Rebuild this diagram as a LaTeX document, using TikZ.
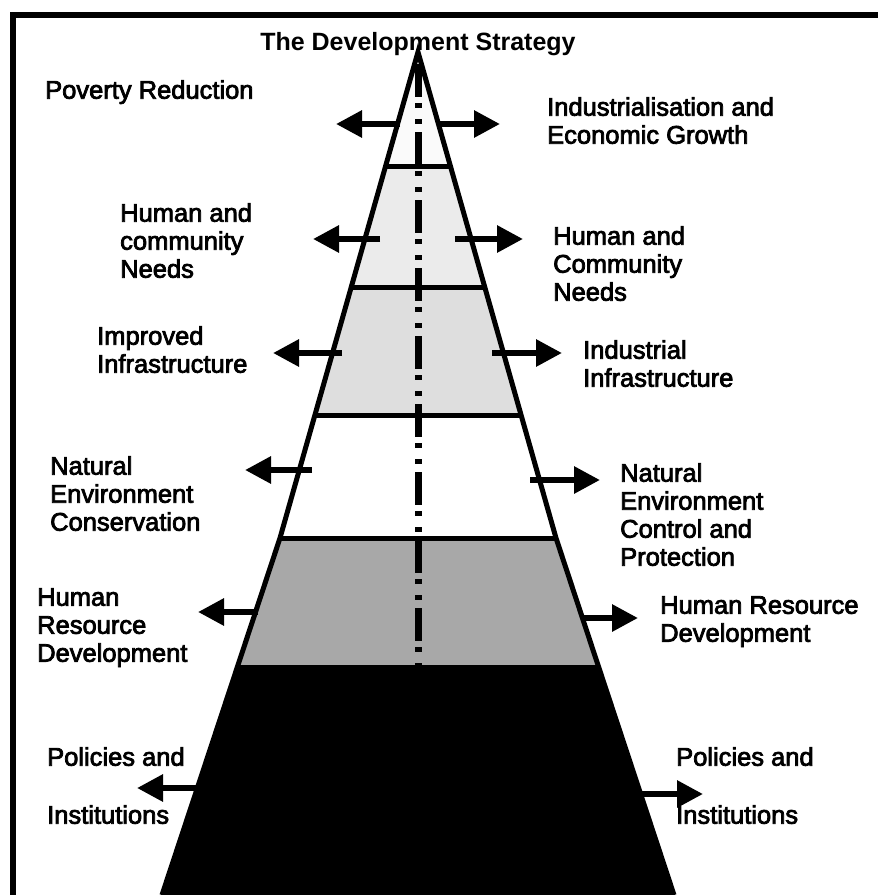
\documentclass[tikz,border=0pt]{standalone}
\usepackage{fontspec}
\setmainfont{Liberation Sans}
\newfontfamily\lblfont{Liberation Sans}[FakeBold=3]
\usepackage{tikz}
\usetikzlibrary{arrows.meta}
\newcommand*\lblsize{\fontsize{25.5}{28}\selectfont}
\tikzset{
    frame/.style  = {line width=6pt},
    rim/.style    = {line width=5pt, line join=miter},
    bandline/.style = {line width=5pt},
    axis/.style   = {line width=7pt,
                     dash pattern=on 33pt off 6pt on 5pt off 11pt on 5pt off 8pt},
    arr/.style    = {line width=6pt, -{Triangle[length=26pt,width=26pt]}},
    lbl/.style    = {anchor=north west, inner sep=0pt, align=left,
                     font=\lblfont\lblsize},
    headline/.style = {anchor=base, inner sep=0pt,
                     font=\bfseries\fontsize{25}{28}\selectfont},
  }

\begin{document}
\begin{tikzpicture}[x=1pt,y=-1pt]
    \useasboundingbox (0,0) rectangle (878,895);

    % open frame: top and left only
    \draw[frame] (878,15) -- (13,15) -- (13,895);

    % pyramid outline, a little flared below the white band
    \coordinate (apex) at (418,52);
    \coordinate (ml)   at (280,538);
    \coordinate (mr)   at (556,538);
    \coordinate (bl)   at (162,895);
    \coordinate (br)   at (674,895);

    % shaded bands, cut to the pyramid
    \begin{scope}
        \clip (apex) -- (mr) -- (br) -- (bl) -- (ml) -- cycle;
        \foreach \ya/\yb/\c in {52/166/gray!4, 166/287/gray!16, 287/415/gray!26,
                                415/538/white, 538/665/gray!68, 665/895/black} {
            \fill[\c] (0,\ya) rectangle (878,\yb);
        }
        \foreach \ya in {166,287,415,538} {
            \draw[bandline] (0,\ya) -- (878,\ya);
        }
        % centre line down to the black base
        \draw[axis] (418,64) -- (418,665);
    \end{scope}
    \draw[rim] (bl) -- (ml) -- (apex) -- (mr) -- (br);

    \node[headline] (title) at (418,50) {The Development Strategy};

    % left labels
    \node[lbl] (pov)  at (45,80)  {Poverty Reduction};
    \node[lbl] (humL) at (120,203) {Human and\\community\\Needs};
    \node[lbl] (impL) at (97,326) {Improved\\Infrastructure};
    \node[lbl] (natL) at (50,456) {Natural\\Environment\\Conservation};
    \node[lbl] (hrdL) at (37,588) {Human\\Resource\\Development};
    \node[lbl] (polL) at (47,747) {Policies and\\[30pt]Institutions};

    % right labels
    \node[lbl] (ind)  at (547,97) {Industrialisation and\\Economic Growth};
    \node[lbl] (humR) at (553,226) {Human and\\Community\\Needs};
    \node[lbl] (infR) at (583,340) {Industrial\\Infrastructure};
    \node[lbl] (natR) at (620,463) {Natural\\Environment\\Control and\\Protection};
    \node[lbl] (hrdR) at (660,596) {Human Resource\\Development};
    \node[lbl] (polR) at (676,747) {Policies and\\[30pt]Institutions};

    % arrows out of the pyramid, left side
    \foreach \y/\xs/\xt [count=\i from 1] in {124/400/336, 239/380/313, 353/342/273,
                                              470/312/245, 612/258/198, 788/200/137} {
        \coordinate (L\i s) at (\xs,\y);
        \coordinate (L\i t) at (\xt,\y);
        \draw[arr] (L\i s) -- (L\i t);
    }
    % arrows out of the pyramid, right side
    \foreach \y/\xs/\xt [count=\i from 1] in {124/437/500, 239/455/523, 353/492/562,
                                              480/530/600, 618/584/638, 794/640/703} {
        \coordinate (R\i s) at (\xs,\y);
        \coordinate (R\i t) at (\xt,\y);
        \draw[arr] (R\i s) -- (R\i t);
    }
\end{tikzpicture}
\end{document}
